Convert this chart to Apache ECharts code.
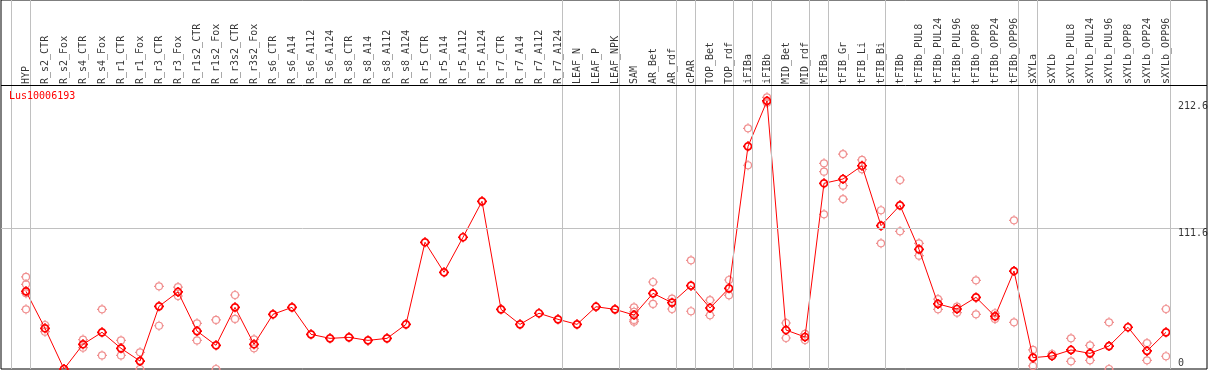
<!DOCTYPE html>
<html>
<head>
<meta charset="utf-8">
<script src="https://cdn.jsdelivr.net/npm/echarts@6/dist/echarts.min.js"></script>
<style>
html,body{margin:0;padding:0;background:#fff;}
#chart{width:1209px;height:370px;}
</style>
</head>
<body>
<div id="chart"></div>
<script>
const geneName = 'Lus10006193';
const categories = ['HYP','R_s2_CTR','R_s2_Fox','R_s4_CTR','R_s4_Fox','R_r1_CTR','R_r1_Fox','R_r3_CTR','R_r3_Fox','R_r1s2_CTR','R_r1s2_Fox','R_r3s2_CTR','R_r3s2_Fox','R_s6_CTR','R_s6_A14','R_s6_A112','R_s6_A124','R_s8_CTR','R_s8_A14','R_s8_A112','R_s8_A124','R_r5_CTR','R_r5_A14','R_r5_A112','R_r5_A124','R_r7_CTR','R_r7_A14','R_r7_A112','R_r7_A124','LEAF_N','LEAF_P','LEAF_NPK','SAM','AR_Bet','AR_rdf','cPAR','TOP_Bet','TOP_rdf','iFIBa','iFIBb','MID_Bet','MID_rdf','tFIBa','tFIB_Gr','tFIB_Li','tFIB_Bi','tFIBb','tFIBb_PUL8','tFIBb_PUL24','tFIBb_PUL96','tFIBb_OPP8','tFIBb_OPP24','tFIBb_OPP96','sXYLa','sXYLb','sXYLb_PUL8','sXYLb_PUL24','sXYLb_PUL96','sXYLb_OPP8','sXYLb_OPP24','sXYLb_OPP96'];
const means = [61.6,32.3,0,19.6,29.1,16.4,6.3,49.7,61.1,30.1,18.8,48.9,19.6,43.4,48.9,27.5,24.3,25.1,22.7,24.3,35.4,100.5,76.7,104.5,133.0,47.3,35.4,44.2,39.4,35.4,49.4,47.3,42.8,60.0,52.6,66.1,48.4,64.0,176.6,212.6,30.9,25.4,147.3,150.7,161.2,113.7,129.8,94.9,51.6,47.6,56.8,41.8,77.7,9.0,10.3,15.1,12.4,18.2,33.1,14.3,29.1];
const replicates = [
  [73.0,67.2,60.0,47.3],[34.9,29.6],[0],[23.3,16.9],[47.3,10.8],[22.7,10.8],[13.2,0],[65.6,34.3],[65.0,57.9],[36.2,22.7],[38.9,0],[58.7,39.7],[23.5,16.4],
  [],[],[],[],[],[],[],[],[],[],[],[],[],[],[],[],[],[],[],
  [48.9,45.4,38.9,37.5],[69.0,51.6],[55.8,47.6],[86.2,45.8],[54.7,42.6],[70.6,58.4],[190.9,161.6],[215.5,211.2],[36.5,24.6],[27.8,23.0],
  [163.1,156.5,122.7],[170.5,145.4,134.8],[165.8,158.4],[125.9,99.7],[149.9,109.2],[99.7,89.9],[55.5,47.3],[49.4,44.7],[70.3,43.4],[44.2,39.7],[117.9,37.0],
  [15.1,2.4],[11.9],[24.3,6.1],[18.8,6.9],[37.0,0],[],[20.6,6.9],[47.6,10.1]
];
const yTickValues = [0, 111.6, 212.6];
const groupEnds = [-1, 0, 28, 31, 34, 35, 37, 38, 39, 41, 42, 45, 52, 53, 60];

// scale setup (library axes do the mapping)
const pxPerCat = 19, gridLeft = 1, gridRight = 2, gridTop = 0, gridBottom = 1;
const gridW = 1209 - gridLeft - gridRight;
const xMin = -(26 - gridLeft) / pxPerCat;
const xMax = xMin + gridW / pxPerCat;
const pxPerUnit = 140.7 / 111.6;
const gridH = 370 - gridTop - gridBottom;
const yMax = gridH / pxPerUnit;
const headerLine = 284 / pxPerUnit;      // separator between header and plot
const headerLabelY = 285 / pxPerUnit;
const yLabelX = xMin + (1178 - gridLeft) / pxPerCat;

const FONT = 'DejaVu Sans Mono';
const gear = 'path://M10,3A7,7,0,1,1,9.99,3ZM10,0L10,3M10,17L10,20M0,10L3,10M17,10L20,10';

const repData = [];
replicates.forEach((arr, i) => arr.forEach(v => repData.push([i, v])));

const chart = echarts.init(document.getElementById('chart'), null, {renderer: 'canvas'});
chart.setOption({
  animation: false,
  title: {
    text: geneName, left: 9, top: 91, padding: 0,
    textStyle: {color: '#ff0000', fontFamily: FONT, fontSize: 10, fontWeight: 'normal'}
  },
  grid: {left: gridLeft, right: gridRight, top: gridTop, bottom: gridBottom, show: true, borderColor: '#000', borderWidth: 1, backgroundColor: '#fff'},
  xAxis: {type: 'value', min: xMin, max: xMax, show: false},
  yAxis: {type: 'value', min: 0, max: yMax, show: false},
  series: [
    {
      type: 'line', name: 'guides', data: [], silent: true, z: 1,
      markLine: {
        silent: true, symbol: 'none', label: {show: false}, animation: false,
        data: groupEnds.map(g => ({xAxis: g + 0.24, lineStyle: {color: '#c0c0c0', width: 1, type: 'solid'}}))
          .concat([{yAxis: 111.6, lineStyle: {color: '#c0c0c0', width: 1, type: 'solid'}},
                   {yAxis: headerLine, lineStyle: {color: '#000', width: 1, type: 'solid'}}])
      }
    },
    {
      type: 'scatter', name: 'replicates', data: repData, symbol: gear, symbolSize: 10, z: 3,
      itemStyle: {color: 'rgba(0,0,0,0)', borderColor: '#f09090', borderWidth: 1.2, opacity: 1}
    },
    {
      type: 'line', name: 'mean', data: means.map((v, i) => [i, v]), symbol: gear, symbolSize: 10, showAllSymbol: true, z: 4,
      lineStyle: {color: '#ff0000', width: 1},
      itemStyle: {color: 'rgba(0,0,0,0)', borderColor: '#ff0000', borderWidth: 1.7}
    },
    {
      type: 'scatter', name: 'catLabels', data: categories.map((c, i) => [i, headerLabelY]), symbolSize: 0, silent: true, z: 5,
      label: {show: true, position: 'inside', rotate: 90, align: 'left', verticalAlign: 'middle',
        formatter: p => categories[p.dataIndex], color: '#000', fontFamily: FONT, fontSize: 10}
    },
    {
      type: 'scatter', name: 'yLabels', symbolSize: 0, silent: true, z: 5,
      data: yTickValues.map(v => ({value: [yLabelX, v], label: {verticalAlign: v === 0 ? 'bottom' : 'top'}})),
      label: {show: true, position: 'inside', align: 'left', formatter: p => String(p.value[1]), color: '#000', fontFamily: FONT, fontSize: 10, lineHeight: 11}
    }
  ]
});
</script>
</body>
</html>
